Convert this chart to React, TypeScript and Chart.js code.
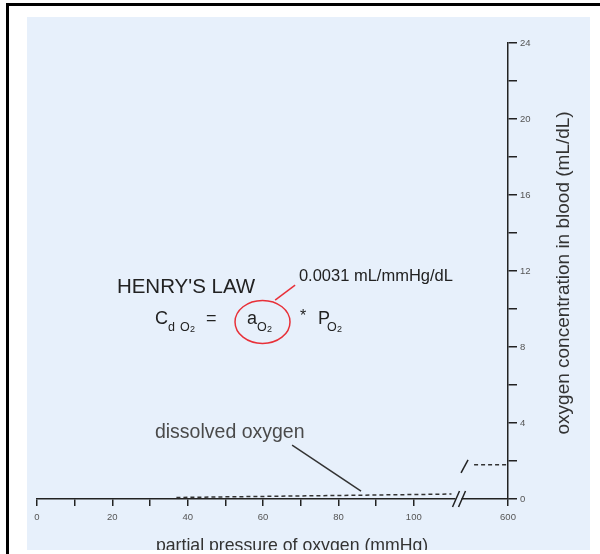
import React, { useEffect, useRef } from 'react';
import { Chart, registerables } from 'chart.js';

Chart.register(...registerables);

// ---- data ----
const xTickValues = [0, 10, 20, 30, 40, 50, 60, 70, 80, 90, 100, 125];
const xTickLabels: Record<number, string> = { 0: '0', 20: '20', 40: '40', 60: '60', 80: '80', 100: '100', 125: '600' };
const yLabelEvery = 4;
const dissolvedP = [37, 110];
const dissolvedC = [0.08, 0.26];
const highP = [116, 125]; // 125 stands for 600 mmHg (after the axis break)
const highC = [1.8, 1.8];
const X_MAX = 125;
const Y_MAX = 24;
const axisBreakP = 111.6;
const lineBreakP = 113.6;

const xTitle = 'partial pressure of oxygen (mmHg)';
const yTitle = 'oxygen concentration in blood (mL/dL)';
const henryTitle = "HENRY'S LAW";
const solubilityText = '0.0031 mL/mmHg/dL';
const dissolvedText = 'dissolved oxygen';

const FONT = '"Liberation Sans", Arial, sans-serif';
const BLUE = 'rgb(231,240,251)';
const INK = '#222';

const decorPlugin = {
  id: 'decor',
  beforeDraw(chart: any) {
    const ctx = chart.ctx;
    ctx.save();
    ctx.fillStyle = '#fff';
    ctx.fillRect(0, 0, chart.width, chart.height);
    ctx.fillStyle = BLUE;
    ctx.fillRect(27, 17, 563, 533);
    ctx.fillStyle = '#000';
    ctx.fillRect(6, 3, chart.width - 6, 3);
    ctx.fillRect(6, 3, 3, chart.height - 3);
    ctx.restore();
  },
  afterDraw(chart: any) {
    const ctx = chart.ctx;
    const xs = chart.scales.x;
    const ys = chart.scales.y;
    const X = (v: number) => xs.getPixelForValue(v);
    const Y = (v: number) => ys.getPixelForValue(v);
    const area = chart.chartArea;
    ctx.save();

    // axis break on x axis
    const bx = X(axisBreakP);
    const ay = area.bottom;
    ctx.fillStyle = BLUE;
    ctx.fillRect(bx - 2, ay - 2, 6, 4);
    ctx.strokeStyle = INK;
    ctx.lineWidth = 1.5;
    ctx.beginPath();
    ctx.moveTo(bx - 5, ay + 8);
    ctx.lineTo(bx + 2, ay - 8);
    ctx.moveTo(bx + 1, ay + 8);
    ctx.lineTo(bx + 8, ay - 8);
    ctx.stroke();

    // break mark on the upper dashed line
    const lx = X(lineBreakP);
    const ly = Y(highC[0]);
    ctx.beginPath();
    ctx.moveTo(lx - 4, ly + 8);
    ctx.lineTo(lx + 3, ly - 5);
    ctx.stroke();

    // dissolved oxygen label + leader
    ctx.fillStyle = '#4a4a4a';
    ctx.font = `19.5px ${FONT}`;
    ctx.textBaseline = 'alphabetic';
    ctx.textAlign = 'left';
    ctx.fillText(dissolvedText, X(31.3), Y(3.21));
    ctx.strokeStyle = '#333';
    ctx.lineWidth = 1.5;
    ctx.beginPath();
    ctx.moveTo(X(67.7), Y(2.84));
    ctx.lineTo(X(86.0), Y(0.42));
    ctx.stroke();

    // Henry's law
    ctx.fillStyle = '#222';
    ctx.font = `20.5px ${FONT}`;
    ctx.fillText(henryTitle, X(21.2), Y(10.84));
    ctx.font = `16.5px ${FONT}`;
    ctx.fillText(solubilityText, X(69.5), Y(11.47));

    // formula
    const by = Y(9.21);
    const cx = X(31.3);
    ctx.font = `18px ${FONT}`;
    ctx.fillText('C', cx, by);
    ctx.font = `12.5px ${FONT}`;
    ctx.fillText('d', cx + 13, by + 7);
    ctx.fillText('O', cx + 25, by + 7);
    ctx.font = `9px ${FONT}`;
    ctx.fillText('2', cx + 35, by + 8);
    ctx.font = `18px ${FONT}`;
    ctx.fillText('=', cx + 51, by);
    const ax = X(55.7);
    ctx.fillText('a', ax, by);
    ctx.font = `12.5px ${FONT}`;
    ctx.fillText('O', ax + 10, by + 7);
    ctx.font = `9px ${FONT}`;
    ctx.fillText('2', ax + 20, by + 8);
    ctx.font = `16px ${FONT}`;
    ctx.fillText('*', X(69.8), by - 3);
    const px = X(74.6);
    ctx.font = `18px ${FONT}`;
    ctx.fillText('P', px, by);
    ctx.font = `12.5px ${FONT}`;
    ctx.fillText('O', px + 9, by + 7);
    ctx.font = `9px ${FONT}`;
    ctx.fillText('2', px + 19, by + 8);

    // red ellipse + leader
    ctx.strokeStyle = 'rgb(232,48,56)';
    ctx.lineWidth = 1.5;
    ctx.beginPath();
    ctx.ellipse(X(59.85), Y(9.32), 27.5, 21.5, 0, 0, Math.PI * 2);
    ctx.stroke();
    ctx.beginPath();
    ctx.moveTo(X(63.2), Y(10.47));
    ctx.lineTo(X(68.5), Y(11.26));
    ctx.stroke();

    // axis titles
    ctx.fillStyle = '#333';
    ctx.font = `19px ${FONT}`;
    ctx.save();
    ctx.translate(area.right + 56, Y(11.9));
    ctx.rotate(-Math.PI / 2);
    ctx.textAlign = 'center';
    ctx.textBaseline = 'middle';
    ctx.fillText(yTitle, 0, 0);
    ctx.restore();

    ctx.save();
    ctx.beginPath();
    ctx.rect(27, 17, 563, 533);
    ctx.clip();
    ctx.font = `17.7px ${FONT}`;
    ctx.textAlign = 'center';
    ctx.textBaseline = 'alphabetic';
    ctx.fillText(xTitle, X(67.7), area.bottom + 52);
    ctx.restore();

    ctx.restore();
  },
};

export default function App() {
  const ref = useRef<HTMLCanvasElement | null>(null);
  useEffect(() => {
    if (!ref.current) return;
    const chart = new Chart(ref.current, {
      type: 'line',
      data: {
        datasets: [
          {
            label: 'dissolved',
            data: dissolvedP.map((p, i) => ({ x: p, y: dissolvedC[i] })),
            borderColor: '#333',
            borderWidth: 1.5,
            borderDash: [4, 3],
            pointRadius: 0,
          },
          {
            label: 'dissolved at 600',
            data: highP.map((p, i) => ({ x: p, y: highC[i] })),
            borderColor: '#333',
            borderWidth: 1.5,
            borderDash: [4, 3],
            pointRadius: 0,
          },
        ],
      },
      options: {
        animation: false,
        responsive: false,
        events: [],
        layout: { padding: { left: 37, top: 43, right: 0, bottom: 0 } },
        plugins: { legend: { display: false }, tooltip: { enabled: false } },
        scales: {
          x: {
            type: 'linear',
            min: 0,
            max: X_MAX,
            position: 'bottom',
            afterFit: (s: any) => { s.height = 55; },
            afterBuildTicks: (s: any) => { s.ticks = xTickValues.map((v) => ({ value: v })); },
            ticks: {
              autoSkip: false,
              maxRotation: 0,
              padding: 6,
              color: '#555',
              font: { size: 9.5, family: FONT },
              callback: (v: any) => xTickLabels[Number(v)] ?? '',
            },
            grid: { drawOnChartArea: false, drawTicks: true, tickLength: 7, color: INK, lineWidth: 1.5 },
            border: { display: true, color: INK, width: 1.5 },
          },
          y: {
            type: 'linear',
            min: 0,
            max: Y_MAX,
            position: 'right',
            afterFit: (s: any) => { s.width = 92; },
            ticks: {
              stepSize: 2,
              padding: 3,
              color: '#555',
              font: { size: 9.5, family: FONT },
              callback: (v: any) => (Number(v) % yLabelEvery === 0 ? String(v) : ''),
            },
            grid: { drawOnChartArea: false, drawTicks: true, tickLength: 9, color: INK, lineWidth: 1.5 },
            border: { display: true, color: INK, width: 1.5 },
          },
        },
      },
      plugins: [decorPlugin],
    });
    return () => chart.destroy();
  }, []);
  return (
    <div style={{ position: 'fixed', left: 0, top: 0, width: 600, height: 554, background: '#fff' }}>
      <canvas ref={ref} width={600} height={554} style={{ display: 'block' }} />
    </div>
  );
}
